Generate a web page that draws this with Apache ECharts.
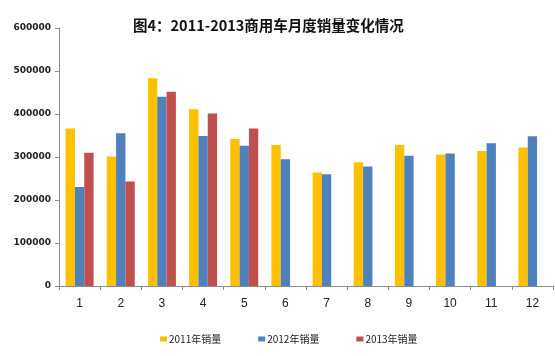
<!DOCTYPE html>
<html><head><meta charset="utf-8">
<script src="https://cdn.jsdelivr.net/npm/echarts@6/dist/echarts.min.js"></script>
<style>html,body{margin:0;padding:0;background:#fff}#c{width:555px;height:356px}</style>
</head><body><div id="c"></div>
<script>
const titleText = '图4：2011-2013商用车月度销量变化情况';
const months = ['1','2','3','4','5','6','7','8','9','10','11','12'];
const yTicks = [0, 100000, 200000, 300000, 400000, 500000, 600000];
const seriesNames = ['2011年销量','2012年销量','2013年销量'];
const sales2011 = [366000, 301000, 483000, 411000, 342000, 328000, 264000, 288000, 328000, 306000, 314000, 322000];
const sales2012 = [230000, 355000, 440000, 349000, 326000, 295000, 260000, 278000, 303000, 308000, 332000, 348000];
const sales2013 = [310000, 243000, 452000, 401000, 366000, null, null, null, null, null, null, null];
const colors = ['#FFC000', '#4F81BD', '#C0504D'];

const chart = echarts.init(document.getElementById('c'), null, {renderer: 'canvas'});
const cjk = '"Noto Sans CJK SC", sans-serif';
chart.setOption({
  animation: false,
  backgroundColor: '#fff',
  color: colors,
  title: {
    text: titleText, left: 128, top: 13,
    textStyle: {fontSize: 14.5, fontWeight: 'bold', color: '#111', fontFamily: cjk}
  },
  legend: {
    data: seriesNames, left: 155, top: 329,
    itemWidth: 7, itemHeight: 5, itemGap: 37,
    textStyle: {fontSize: 10, color: '#222', fontFamily: cjk, padding: [0,0,0,-3]},
    icon: 'rect'
  },
  grid: {left: 59, right: 2, top: 28, bottom: 70, containLabel: false},
  xAxis: {
    type: 'category', data: months,
    axisLine: {lineStyle: {color: '#8c8c8c'}},
    axisTick: {show: true, length: 4, lineStyle: {color: '#8c8c8c'}},
    axisLabel: {fontSize: 12, color: '#222', margin: 12, fontFamily: '"Liberation Sans", sans-serif'}
  },
  yAxis: {
    type: 'value', min: yTicks[0], max: yTicks[yTicks.length-1], interval: yTicks[1]-yTicks[0],
    axisLine: {show: true, lineStyle: {color: '#8c8c8c'}},
    axisTick: {show: true, length: 4, lineStyle: {color: '#8c8c8c'}},
    splitLine: {show: false},
    axisLabel: {fontSize: 9, fontWeight: 'bold', color: '#222', margin: 8, fontFamily: '"DejaVu Sans", sans-serif',
      formatter: v => String(v)}
  },
  series: [sales2011, sales2012, sales2013].map((d, i) => ({
    name: seriesNames[i], type: 'bar', data: d,
    barGap: '0%', barCategoryGap: '32%',
    itemStyle: {color: colors[i]}
  }))
});
</script></body></html>
